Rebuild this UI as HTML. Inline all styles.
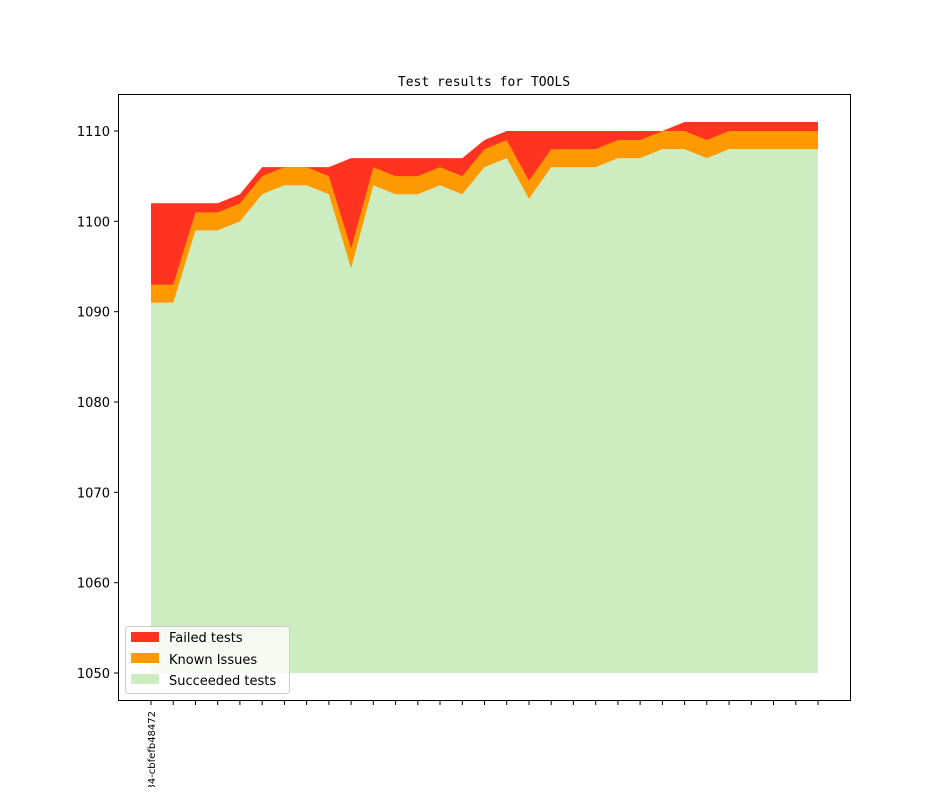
<!DOCTYPE html>
<html><head><style>body{margin:0;background:#fff}</style></head><body>
<svg width="944" height="787" xmlns="http://www.w3.org/2000/svg" font-family="DejaVu Sans, Liberation Sans, sans-serif">
<rect width="944" height="787" fill="#fff"/>
<text x="484" y="86" font-family="DejaVu Sans Mono, Liberation Mono, monospace" font-size="13" text-anchor="middle">Test results for TOOLS</text>
<g transform="translate(151,673) scale(22.233,-9.033)">
<polygon fill="#ff331f" points="0,52 1,52 2,52 3,52 4,53 5,56 6,56 7,56 8,56 9,57 10,57 11,57 12,57 13,57 14,57 15,59 16,60 17,60 18,60 19,60 20,60 21,60 22,60 23,60 24,61 25,61 26,61 27,61 28,61 29,61 30,61 30,0 0,0"/>
<polygon fill="#ff9900" points="0,43 1,43 2,51 3,51 4,52 5,55 6,56 7,56 8,55 9,47 10,56 11,55 12,55 13,56 14,55 15,58 16,59 17,54.5 18,58 19,58 20,58 21,59 22,59 23,60 24,60 25,59 26,60 27,60 28,60 29,60 30,60 30,0 0,0"/>
<polygon fill="#cdecbf" points="0,41 1,41 2,49 3,49 4,50 5,53 6,54 7,54 8,53 9,44.8 10,54 11,53 12,53 13,54 14,53 15,56 16,57 17,52.5 18,56 19,56 20,56 21,57 22,57 23,58 24,58 25,57 26,58 27,58 28,58 29,58 30,58 30,0 0,0"/>
</g>
<rect x="118.5" y="94.5" width="732" height="606" fill="none" stroke="#000" stroke-width="1"/>
<g stroke="#000" stroke-width="1">
<line x1="114" x2="118" y1="673" y2="673"/><line x1="114" x2="118" y1="582.7" y2="582.7"/><line x1="114" x2="118" y1="492.3" y2="492.3"/><line x1="114" x2="118" y1="402" y2="402"/><line x1="114" x2="118" y1="311.7" y2="311.7"/><line x1="114" x2="118" y1="221.3" y2="221.3"/><line x1="114" x2="118" y1="131" y2="131"/>
</g>
<g font-size="13" text-anchor="end">
<text x="110" y="678">1050</text><text x="110" y="587.7">1060</text><text x="110" y="497.3">1070</text><text x="110" y="407">1080</text><text x="110" y="316.7">1090</text><text x="110" y="226.3">1100</text><text x="110" y="136">1110</text>
</g>
<g stroke="#000" stroke-width="1" id="xt"></g>
<g stroke="#000">
<path d="M151,701v4M173.2,701v4M195.5,701v4M217.7,701v4M239.9,701v4M262.2,701v4M284.4,701v4M306.6,701v4M328.9,701v4M351.1,701v4M373.3,701v4M395.6,701v4M417.8,701v4M440,701v4M462.3,701v4M484.5,701v4M506.7,701v4M529,701v4M551.2,701v4M573.4,701v4M595.7,701v4M617.9,701v4M640.1,701v4M662.4,701v4M684.6,701v4M706.8,701v4M729.1,701v4M751.3,701v4M773.5,701v4M795.8,701v4M818,701v4"/>
</g>
<text transform="translate(155,711) rotate(-90)" font-size="10" text-anchor="end">34-cbfefb48472</text>
<rect x="125.5" y="626.5" width="164" height="67" rx="3" fill="#fff" fill-opacity="0.8" stroke="#ccc"/>
<rect x="131" y="632" width="28" height="10" fill="#ff331f"/>
<rect x="131" y="653" width="28" height="10" fill="#ff9900"/>
<rect x="131" y="674" width="28" height="10" fill="#cdecbf"/>
<g font-size="13"><text x="169" y="642">Failed tests</text><text x="169" y="664">Known Issues</text><text x="169" y="685">Succeeded tests</text></g>
</svg>
</body></html>
